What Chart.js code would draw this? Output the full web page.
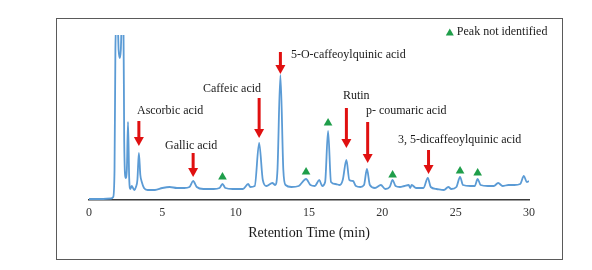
<!DOCTYPE html>
<html>
<head>
<meta charset="utf-8">
<script src="https://cdn.jsdelivr.net/npm/chart.js@4/dist/chart.umd.min.js"></script>
<style>
  html, body { margin: 0; padding: 0; background: #fff; }
  #wrap { position: relative; width: 592px; height: 270px; }
  #frame {
    position: absolute; left: 56px; top: 18px; width: 505px; height: 240px;
    border: 1.5px solid #5a5a5a; pointer-events: none;
  }
</style>
</head>
<body>
<div id="wrap">
  <canvas id="chromChart" width="592" height="270"></canvas>
  <div id="frame"></div>
</div>
<script>
// Chromatogram trace (retention time in min, detector response)
const retentionTimes = [
  0.0, 0.8, 1.5, 1.65, 1.74, 1.8, 1.84, 1.96, 2.02, 2.1, 2.17, 2.23, 2.35, 2.4, 2.5, 2.58, 2.66, 2.74,
  2.82, 2.92, 3.0, 3.1, 3.2, 3.3, 3.4, 3.5, 3.6, 3.75, 4.0, 4.5, 5.0, 5.5, 6.0, 6.5,
  6.85, 7.1, 7.35, 7.8, 8.5, 8.9, 9.1, 9.3, 9.8, 10.5, 10.85, 11.0, 11.3, 11.6, 11.85, 12.1,
  12.5, 12.7, 12.85, 13.05, 13.25, 13.4, 13.8, 14.3, 14.8, 15.1, 15.4, 15.7, 15.9, 16.1, 16.3, 16.5,
  16.8, 17.1, 17.3, 17.55, 17.75, 18.0, 18.2, 18.5, 18.75, 18.95, 19.15, 19.5, 19.9, 20.2, 20.5, 20.7,
  20.9, 21.2, 21.5, 21.8, 21.9, 22.0, 22.3, 22.8, 23.1, 23.3, 23.7, 24.2, 24.5, 24.7, 25.05, 25.3,
  25.5, 26.0, 26.3, 26.5, 26.7, 27.2, 27.6, 27.9, 28.2, 28.6, 29.0, 29.4, 29.65, 29.85, 30.0
];
const intensities = [
  1, 1, 1.5, 3, 30, 150, 175, 175, 150, 142, 150, 175, 175, 60, 22, 30, 78, 22,
  11, 14, 12, 10, 13, 20, 47, 25, 18, 12, 10, 10, 12, 13, 12, 12,
  13, 19, 13, 11, 11, 12, 16, 12, 11, 11, 16, 13, 14, 57, 20, 14,
  17, 15, 30, 125, 30, 15, 13, 14, 21, 15, 14, 20, 14, 18, 69, 18,
  16, 15, 20, 40, 20, 19, 14, 13, 15, 31, 15, 12, 15, 11, 13, 20,
  14, 13, 14, 15, 12, 15, 12, 12, 22, 13, 11, 10, 13, 11, 13, 23,
  15, 14, 14, 21, 15, 14, 14, 17, 14, 15, 15, 16, 24, 18, 19
];

// Unidentified peaks (green triangles)
const unidentifiedTimes   = [9.1, 14.8, 16.3, 20.7, 25.3, 26.5];
const unidentifiedMarkers = [23, 28, 77, 25, 29, 27];

// Identified compounds: arrow time, arrow top/tip level, label anchor
const compoundNames = [
  "Ascorbic acid", "Gallic acid", "Caffeic acid", "5-O-caffeoylquinic acid",
  "Rutin", "p- coumaric acid", "3, 5-dicaffeoylquinic acid"
];
const arrowTimes  = [3.4, 7.1, 11.6, 13.05, 17.55, 19.0, 23.15];
const arrowTops   = [79, 47, 102, 148, 92, 78, 50];
const arrowTips   = [54, 23, 62, 126, 52, 37, 26];
const labelTimes  = [3.27, 5.18, 7.77, 13.77, 17.31, 18.88, 21.06];
const labelLevels = [89, 54, 111, 145, 104, 89, 60];

const xTickValues = [0, 5, 10, 15, 20, 25, 30];
const legendText = "Peak not identified";

const serif = "'Liberation Serif', 'Times New Roman', serif";
const traceColor = "#5b9bd5";
const markerColor = "#1f9e4a";
const arrowColor = "#e01010";

// ── Arrows, compound names and legend ─────────────────────
const annotatePlugin = {
  id: "annotate",
  afterDatasetsDraw(chart) {
    const ctx = chart.ctx;
    const xs = chart.scales.x;
    const ys = chart.scales.y;
    ctx.save();

    compoundNames.forEach((name, i) => {
      const x = xs.getPixelForValue(arrowTimes[i]);
      const yTop = ys.getPixelForValue(arrowTops[i]);
      const yTip = ys.getPixelForValue(arrowTips[i]);
      ctx.strokeStyle = arrowColor;
      ctx.fillStyle = arrowColor;
      ctx.lineWidth = 3;
      ctx.beginPath();
      ctx.moveTo(x, yTop);
      ctx.lineTo(x, yTip - 8);
      ctx.stroke();
      ctx.beginPath();
      ctx.moveTo(x - 5, yTip - 9);
      ctx.lineTo(x + 5, yTip - 9);
      ctx.lineTo(x, yTip);
      ctx.closePath();
      ctx.fill();

      ctx.fillStyle = "#1a1a1a";
      ctx.font = "12px " + serif;
      ctx.textAlign = "left";
      ctx.textBaseline = "middle";
      ctx.fillText(name, xs.getPixelForValue(labelTimes[i]), ys.getPixelForValue(labelLevels[i]));
    });

    // legend
    const lx = xs.getPixelForValue(24.6);
    const ly = ys.getPixelForValue(168);
    ctx.fillStyle = markerColor;
    ctx.beginPath();
    ctx.moveTo(lx - 4, ly + 3.5);
    ctx.lineTo(lx + 4, ly + 3.5);
    ctx.lineTo(lx, ly - 3.5);
    ctx.closePath();
    ctx.fill();
    ctx.fillStyle = "#1a1a1a";
    ctx.font = "12px " + serif;
    ctx.textAlign = "left";
    ctx.textBaseline = "middle";
    ctx.fillText(legendText, lx + 7, ly);

    ctx.restore();
  }
};

const tracePoints = retentionTimes.map((t, i) => ({ x: t, y: intensities[i] }));
const markerPoints = unidentifiedTimes.map((t, i) => ({ x: t, y: unidentifiedMarkers[i] }));

new Chart(document.getElementById("chromChart").getContext("2d"), {
  type: "line",
  data: {
    datasets: [
      {
        data: tracePoints,
        borderColor: traceColor,
        borderWidth: 1.8,
        pointRadius: 0,
        cubicInterpolationMode: "monotone",
        fill: false,
        order: 2
      },
      {
        type: "scatter",
        data: markerPoints,
        pointStyle: "triangle",
        pointRadius: 5,
        backgroundColor: markerColor,
        borderColor: markerColor,
        borderWidth: 0,
        order: 1
      }
    ]
  },
  options: {
    responsive: false,
    animation: false,
    layout: { padding: { left: 89, right: 63, top: 35, bottom: 0 } },
    plugins: { legend: { display: false }, tooltip: { enabled: false } },
    scales: {
      x: {
        type: "linear",
        min: 0,
        max: 30,
        afterBuildTicks: (scale) => { scale.ticks = xTickValues.map(v => ({ value: v })); },
        afterFit: (scale) => { scale.height = 70; },
        grid: { display: false, drawTicks: false },
        border: { display: true, color: "#3a3a3a", width: 1.5 },
        ticks: { padding: 6, color: "#333", font: { family: serif, size: 12 }, maxRotation: 0 },
        title: {
          display: true,
          text: "Retention Time (min)",
          color: "#1a1a1a",
          font: { family: serif, size: 14 },
          padding: { top: 0, bottom: 28.6 }
        }
      },
      y: { display: false, min: 0, max: 165 }
    }
  },
  plugins: [annotatePlugin]
});
</script>
</body>
</html>
